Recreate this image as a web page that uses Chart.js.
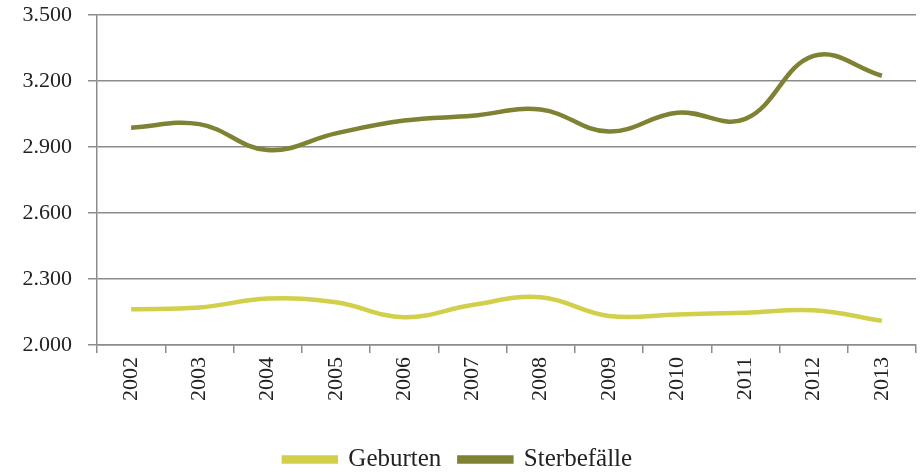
<!DOCTYPE html>
<html>
<head>
<meta charset="utf-8">
<script src="https://cdn.jsdelivr.net/npm/chart.js@4"></script>
<style>
  html, body { margin: 0; padding: 0; background: #fff; }
  #wrap { width: 924px; height: 473px; }
</style>
</head>
<body>
<div id="wrap"><canvas id="chart"></canvas></div>
<script>
// data
const years = ["2002", "2003", "2004", "2005", "2006", "2007", "2008", "2009", "2010", "2011", "2012", "2013"];
const geburten = [2162, 2170, 2211, 2194, 2126, 2182, 2217, 2132, 2139, 2147, 2158, 2110];
const sterbefaelle = [2988, 3004, 2886, 2962, 3020, 3042, 3070, 2970, 3056, 3028, 3314, 3224];
const yTicks = [2000, 2300, 2600, 2900, 3200, 3500];

const gridColor = "#8c8c8c";
const fontFamily = "'Liberation Serif', 'DejaVu Serif', serif";

function formatDe(v) {
  return String(v).replace(/\B(?=(\d{3})+(?!\d))/g, ".");
}

new Chart(document.getElementById("chart"), {
  type: "line",
  data: {
    labels: years,
    datasets: [
      {
        label: "Geburten",
        data: geburten,
        borderColor: "#d2d04b",
        backgroundColor: "#d2d04b",
        borderWidth: 4.5,
        pointRadius: 0,
        tension: 0.4
      },
      {
        label: "Sterbefälle",
        data: sterbefaelle,
        borderColor: "#7f8232",
        backgroundColor: "#7f8232",
        borderWidth: 4.5,
        pointRadius: 0,
        tension: 0.4
      }
    ]
  },
  options: {
    responsive: true,
    maintainAspectRatio: false,
    animation: false,
    layout: { padding: { top: 15, right: 8, left: 0, bottom: -9 } },
    plugins: {
      tooltip: { enabled: false },
      legend: {
        position: "bottom",
        labels: {
          boxWidth: 52,
          boxHeight: 4,
          padding: 18,
          color: "#222",
          font: { family: fontFamily, size: 25 }
        }
      }
    },
    scales: {
      x: {
        offset: true,
        afterFit: s => { s.height = 84; s.paddingLeft = 0; s.paddingRight = 0; },
        grid: {
          offset: true,
          drawOnChartArea: false,
          drawTicks: true,
          tickLength: 8,
          color: gridColor,
          lineWidth: 1.5
        },
        border: { color: gridColor, width: 1.5 },
        ticks: {
          minRotation: 90,
          maxRotation: 90,
          autoSkip: false,
          padding: 4,
          color: "#222",
          font: { family: fontFamily, size: 22 }
        }
      },
      y: {
        min: 2000,
        max: 3500,
        afterFit: s => { s.width = 97; s.paddingTop = 0; s.paddingBottom = 0; },
        afterBuildTicks: s => { s.ticks = yTicks.map(v => ({ value: v })); },
        grid: {
          color: gridColor,
          lineWidth: 1.5,
          drawTicks: true,
          tickLength: 9
        },
        border: { color: gridColor, width: 1.5 },
        ticks: {
          padding: 16,
          color: "#222",
          font: { family: fontFamily, size: 22 },
          callback: v => formatDe(v)
        }
      }
    }
  }
});
</script>
</body>
</html>
